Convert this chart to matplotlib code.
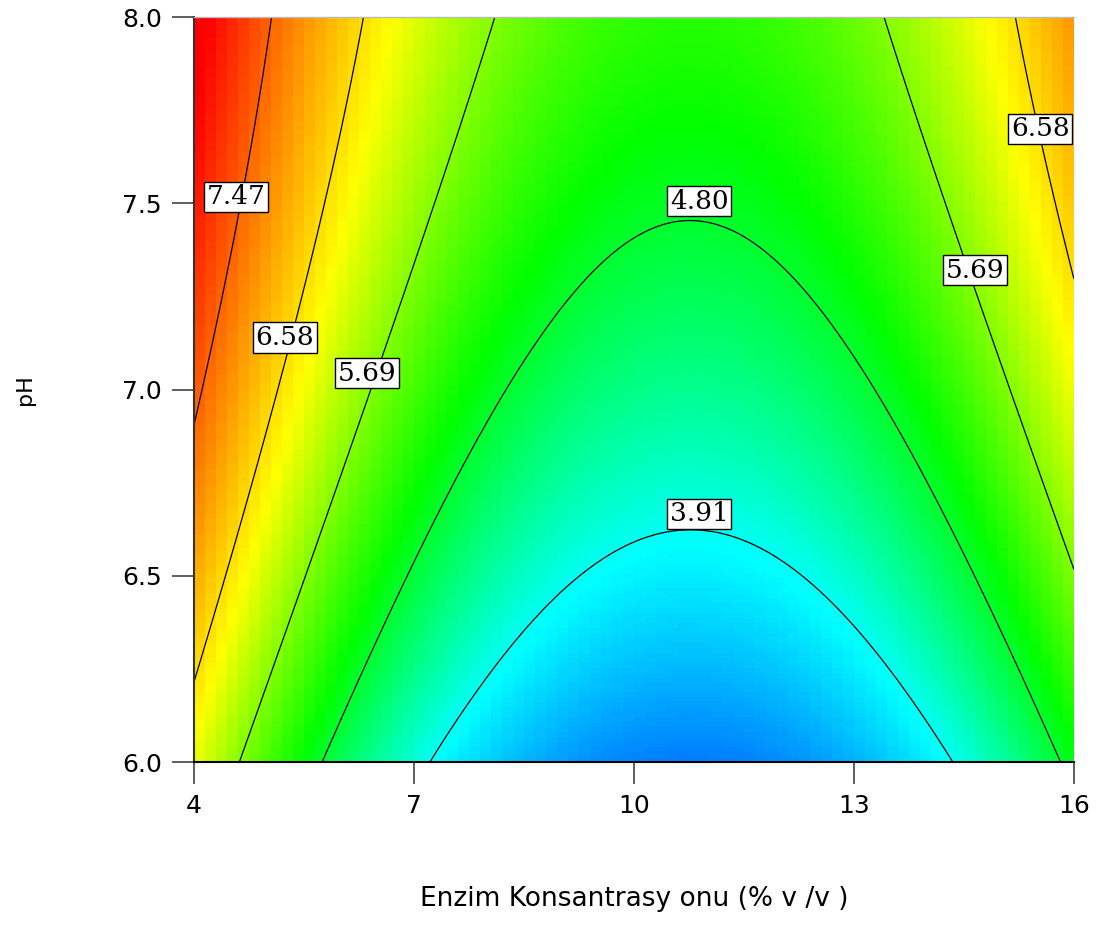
import numpy as np
import matplotlib.pyplot as plt
from matplotlib.colors import LinearSegmentedColormap

# axis ranges of the design
enzyme_range = [4, 16]     # % v/v
ph_range = [6.0, 8.0]
x_ticks = [4, 7, 10, 13, 16]
y_ticks = [6.0, 6.5, 7.0, 7.5, 8.0]

levels = [3.91, 4.80, 5.69, 6.58, 7.47]

pt_enzyme = [7.2, 14.35, 10.78, 8.29, 13.27,
             5.8, 15.8, 10.75, 8.23, 13.30,
             4.59, 8.08, 13.4, 16.0,
             4.0, 6.39, 15.2, 16.0,
             4.0, 5.0]
pt_ph = [6.0, 6.0, 6.63, 6.30, 6.30,
         6.0, 6.0, 7.46, 7.0, 7.0,
         6.0, 8.0, 8.0, 6.53,
         6.23, 8.0, 8.0, 7.29,
         6.87, 8.0]
pt_level = [3.91] * 5 + [4.80] * 5 + [5.69] * 4 + [6.58] * 4 + [7.47] * 2

# where the level boxes sit (enzyme, pH)
label_levels = [7.47, 6.58, 5.69, 4.80, 3.91, 5.69, 6.58]
label_x = [4.57, 5.24, 6.36, 10.89, 10.89, 14.65, 15.54]
label_y = [7.517, 7.14, 7.044, 7.506, 6.666, 7.32, 7.70]

# colour stops (value, colour)
stop_values = [2.21, 3.85, 5.0, 6.35, 8.2]
stop_colors = ['#0000ff', '#00ffff', '#00ff00', '#ffff00', '#ff0000']


def terms(x, ph):
    A = (np.asarray(x) - 10) / 6
    B = np.asarray(ph) - 7
    return [np.ones_like(A), A, B, A * B, A**2, B**2, A**2 * B]


# response surface fitted through the read contour points
M = np.column_stack(terms(pt_enzyme, pt_ph))
coef, *_ = np.linalg.lstsq(M, np.array(pt_level), rcond=None)


def model(x, ph):
    return sum(c * t for c, t in zip(coef, terms(x, ph)))


vmin, vmax = stop_values[0], stop_values[-1]
pos = [(v - vmin) / (vmax - vmin) for v in stop_values]
cmap = LinearSegmentedColormap.from_list('de', list(zip(pos, stop_colors)))

fig = plt.figure(figsize=(11.11, 9.25), dpi=100)
ax = fig.add_axes([0.1746, 0.1762, 0.792, 0.8054])

# coarse colour blocks like the original render
nx, ny = 80, 150
xe = np.linspace(enzyme_range[0], enzyme_range[1], nx + 1)
ye = np.linspace(ph_range[0], ph_range[1], ny + 1)
xc = (xe[:-1] + xe[1:]) / 2
yc = (ye[:-1] + ye[1:]) / 2
Xc, Yc = np.meshgrid(xc, yc)
ax.pcolormesh(xe, ye, model(Xc, Yc), cmap=cmap, vmin=vmin, vmax=vmax,
              shading='flat', rasterized=True)

# smooth contour lines
xf = np.linspace(enzyme_range[0], enzyme_range[1], 300)
yf = np.linspace(ph_range[0], ph_range[1], 300)
Xf, Yf = np.meshgrid(xf, yf)
ax.contour(Xf, Yf, model(Xf, Yf), levels=levels, colors='black', linewidths=0.9)

for lev, lx, ly in zip(label_levels, label_x, label_y):
    ax.text(lx, ly, f'{lev:.2f}', ha='center', va='center', fontsize=19,
            family='DejaVu Serif', color='black', zorder=5,
            bbox=dict(boxstyle='square,pad=0.1', facecolor='white',
                      edgecolor='black', linewidth=1))

ax.set_xlim(enzyme_range)
ax.set_ylim(ph_range)
ax.set_xticks(x_ticks)
ax.set_xticklabels([str(t) for t in x_ticks])
ax.set_yticks(y_ticks)
ax.set_yticklabels([f'{t:.1f}' for t in y_ticks])
ax.tick_params(axis='both', direction='out', length=16, width=1.2,
               color='#444444', labelsize=18, pad=7)

ax.spines['right'].set_visible(False)
ax.spines['top'].set_color('#bbbbbb')
ax.spines['top'].set_linewidth(1)
ax.spines['left'].set_color('#333333')
ax.spines['left'].set_linewidth(1.5)
ax.spines['bottom'].set_color('black')
ax.spines['bottom'].set_linewidth(1.5)

ax.set_xlabel('Enzim Konsantrasy onu (% v /v )', fontsize=19)
ax.xaxis.set_label_coords(0.5, -0.166)
ax.set_ylabel('pH', fontsize=16)
ax.yaxis.set_label_coords(-0.181, 0.5)

fig.savefig('out.png', dpi=100)
